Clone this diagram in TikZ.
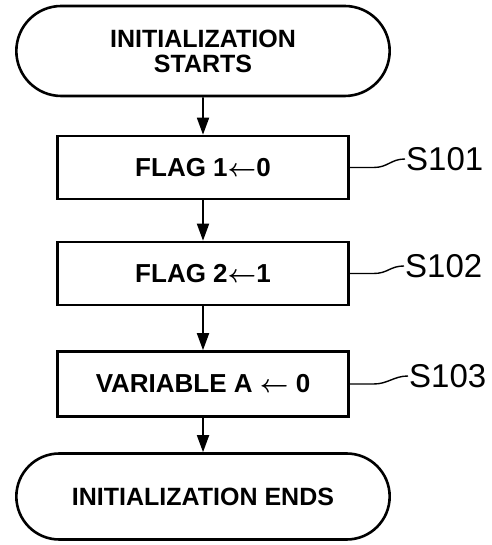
\documentclass[tikz,border=0pt]{standalone}
\usepackage{fontspec}
\setmainfont{Liberation Sans}
\usetikzlibrary{shapes.misc,positioning,arrows.meta}

\begin{document}
\begin{tikzpicture}[x=1pt,y=1pt,
    term/.style={draw, line width=2.6pt, rounded rectangle, minimum width=380pt,
        minimum height=90pt, align=center, font=\fontsize{25}{25}\selectfont\bfseries},
    procbox/.style={draw, line width=2.6pt, minimum width=291pt, minimum height=63pt,
        font=\fontsize{26}{28}\selectfont\bfseries},
    flow/.style={line width=1.8pt, -{Triangle[length=17pt,width=12pt]}},
    stepno/.style={anchor=west, inner sep=1pt, font=\fontsize{33}{36}\selectfont},
    lead/.style={line width=1.4pt}]
    \useasboundingbox (0,0) rectangle (491,545);
    \def\mid{203} % common x of the flow

    \node[term] (start) at (\mid,494) {INITIALIZATION\\STARTS};
    \node[procbox] (b1) at (\mid,377.5) {FLAG 1{\boldmath$\leftarrow$}0};
    \node[procbox] (b2) at (\mid,271.5) {FLAG 2{\boldmath$\leftarrow$}1};
    \node[procbox, minimum height=65pt] (b3) at (\mid,161) {VARIABLE A {\boldmath$\leftarrow$} 0};
    \node[term, minimum height=86pt] (stop) at (\mid,48.5) {INITIALIZATION ENDS};

    \draw[flow] (start) -- (b1);
    \draw[flow] (b1) -- (b2);
    \draw[flow] (b2) -- (b3);
    \draw[flow] (b3) -- (stop);

    % step numbers
    \node[stepno] (s1) at (405,386) {S101};
    \node[stepno] (s2) at (404,279) {S102};
    \node[stepno] (s3) at (408,169) {S103};

    \foreach \i in {1,2,3}
    \draw[lead] (b\i.east) -- ++(24,0) .. controls +(14,0) and +(-14,0) .. (s\i.west);
\end{tikzpicture}
\end{document}
